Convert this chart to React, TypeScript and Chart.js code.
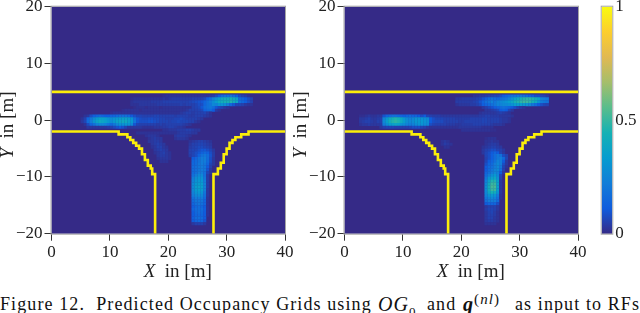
import React, { useEffect, useRef } from "react";
import { Chart, registerables } from "chart.js";

Chart.register(...registerables);

const FONT = "'Liberation Serif', serif";

// parula colour map, ten evenly spaced stops
const parulaStops = [
  [53, 42, 135], [15, 92, 221], [18, 125, 216], [7, 156, 207], [21, 177, 180],
  [89, 189, 140], [165, 190, 107], [225, 185, 82], [252, 206, 46], [249, 251, 14],
];

const xTickRange = [0, 40];
const yTickRange = [-20, 20];
const colorTicks = [0, 0.5, 1];

// road edges, metres
const topEdge = [[0, 5], [40, 5]];
const leftCurb = [
  [0, -2], [11.5, -2], [11.5, -2.5], [13, -2.5], [13, -3], [13.5, -3], [13.5, -3.5], [14, -3.5], [14, -4],
  [14.5, -4], [14.5, -4.5], [15, -4.5], [15, -5], [15.5, -5], [15.5, -6], [16, -6], [16, -7], [16.5, -7],
  [16.5, -8], [17, -8], [17, -8.5], [17.25, -8.5], [17.25, -9.5], [17.75, -9.5], [17.75, -20],
];
const rightCurb = [
  [27.75, -20], [27.75, -9.5], [28.5, -9.5], [28.5, -8.5], [29, -8.5], [29, -7.5], [29.5, -7.5], [29.5, -6],
  [30, -6], [30, -5], [30.5, -5], [30.5, -4], [31, -4], [31, -3.5], [31.5, -3.5], [31.5, -3], [32.5, -3],
  [32.5, -2.5], [33.75, -2.5], [33.75, -2], [40, -2],
];

// occupancy cells: [row centre y, left edge x of first cell, ...percent per 0.5 m cell]
const leftGrid = [
  [4.25, 19, 1, 2, 2, 2, 2, 2, 2, 2, 2, 2, 2, 2, 2, 2, 2, 2, 3, 4, 7, 11, 16, 18, 18, 20, 16, 12, 7, 5, 4, 2],
  [3.75, 13.5, 1, 2, 2, 2, 2, 2, 2, 2, 2, 2, 2, 3, 2, 3, 4, 4, 4, 4, 4, 4, 4, 5, 5, 5, 5, 7, 12, 17, 24, 30, 36, 40, 42, 42, 44, 40, 36, 16, 14, 11, 8, 5],
  [3.25, 13.5, 2, 3, 3, 3, 3, 3, 3, 4, 4, 4, 4, 5, 5, 5, 5, 5, 5, 5, 5, 5, 6, 7, 8, 9, 10, 14, 18, 22, 28, 34, 40, 42, 44, 44, 46, 42, 38, 18, 15, 12, 8, 5],
  [2.75, 13.5, 2, 2, 2, 3, 3, 3, 3, 3, 3, 4, 4, 4, 4, 4, 4, 4, 4, 5, 4, 5, 5, 5, 6, 8, 8, 14, 18, 20, 26, 24, 30, 30, 28, 22, 15, 10, 6, 6, 5, 3, 2, 2],
  [2.25, 14, 1, 2, 2, 2, 1, 2, 2, 2, 2, 1, 2, 2, 2, 2, 2, 2, 2, 2, 2, 2, 5, 6, 7, 10, 16, 18, 20, 17, 10, 7, 5, 3, 2],
  [1.75, 12, 1, 2, 2, 2, 2, 2, 1, 2, 2, 2, 2, 2, 2, 2, 2, 2, 2, 2, 2, 2, 2, 2, 3, 5, 5, 5, 6, 7, 13, 15, 16, 11, 4, 2],
  [1.25, 10, 1, 2, 2, 2, 2, 2, 2, 2, 2, 2, 2, 2, 2, 2, 2, 2, 2, 2, 2, 2, 2, 2, 2, 2, 3, 4, 5, 5, 4, 5, 5, 5, 6, 4, 2],
  [0.75, 5.5, 2, 3, 8, 12, 14, 16, 14, 12, 12, 14, 14, 16, 18, 18, 18, 16, 11, 8, 6, 6, 5, 5, 5, 5, 6, 6, 5, 5, 5, 5, 5, 4, 5, 5, 5, 5, 4, 4, 5, 5, 5, 4, 3, 2],
  [0.25, 5, 2, 5, 14, 20, 26, 32, 36, 36, 34, 30, 28, 30, 32, 34, 36, 36, 34, 30, 18, 10, 8, 7, 7, 8, 8, 7, 7, 6, 6, 5, 5, 5, 6, 6, 7, 6, 5, 5, 5, 5, 4, 3],
  [-0.25, 5, 3, 6, 16, 22, 30, 36, 40, 38, 36, 32, 28, 32, 36, 38, 40, 40, 36, 32, 20, 10, 8, 8, 8, 9, 9, 8, 7, 6, 6, 6, 5, 6, 6, 7, 6, 6, 6, 5, 5, 3, 2],
  [-0.75, 5.5, 2, 7, 14, 18, 24, 26, 26, 24, 20, 16, 20, 26, 30, 30, 32, 30, 26, 10, 6, 5, 5, 5, 5, 5, 5, 4, 5, 4, 5, 5, 5, 5, 5, 5, 4, 3, 2],
  [-1.25, 6, 3, 3, 3, 3, 3, 3, 3, 4, 5, 7, 9, 11, 9, 6, 3, 3, 3, 3, 3, 2, 2, 2, 2, 3, 3, 3, 4, 4, 5, 5, 4, 3, 3, 2],
  [-1.75, 19, 2, 2, 3, 3, 3, 4, 4, 4, 5, 5, 4, 3, 3],
  [-2.25, 14.5, 2, 2, 2, 2, 2, 2, 2, 2, 2, 2, 2, 2, 2, 2, 3, 4, 4, 4, 4, 3, 3],
  [-2.75, 16, 2, 3, 3, 3, 2], [-2.75, 21, 3, 4, 4, 4, 3, 2],
  [-3.25, 16.5, 2, 3, 4, 3, 3], [-3.25, 21, 2, 3, 3, 3, 2],
  [-3.75, 16.5, 3, 3, 4, 4, 3], [-3.75, 23.5, 2, 3, 4, 5, 5, 4, 3, 2],
  [-4.25, 17, 3, 4, 5, 4, 3], [-4.25, 23.5, 3, 5, 5, 6, 6, 5, 4, 3],
  [-4.75, 17, 2, 3, 5, 5, 3, 2], [-4.75, 23.5, 4, 5, 6, 7, 7, 6, 5, 4],
  [-5.25, 17.5, 3, 4, 5, 4, 3], [-5.25, 23.5, 5, 6, 6, 8, 10, 10, 8, 6, 3],
  [-5.75, 17.5, 2, 3, 4, 5, 3, 2], [-5.75, 23.5, 5, 6, 8, 10, 13, 15, 13, 8, 4],
  [-6.25, 18, 3, 4, 4, 3, 2], [-6.25, 23.5, 4, 6, 8, 13, 18, 20, 17, 9, 4],
  [-6.75, 18, 2, 3, 3, 3, 2], [-6.75, 24, 11, 14, 18, 22, 22, 17, 8, 3],
  [-7.25, 18.5, 2, 2, 2], [-7.25, 24, 14, 16, 18, 22, 22, 16, 8, 3],
  [-7.75, 24, 15, 16, 20, 22, 20, 14, 6, 3],
  [-8.25, 24, 16, 18, 20, 22, 20, 11, 5],
  [-8.75, 24, 16, 18, 20, 22, 20, 9, 3],
  [-9.25, 24, 16, 18, 22, 22, 18, 6, 3],
  [-9.75, 24, 18, 22, 26, 26, 18, 4],
  [-10.25, 24, 22, 28, 30, 30, 20, 4],
  [-10.75, 24, 24, 30, 32, 32, 22, 4],
  [-11.25, 24, 26, 32, 34, 34, 24, 4],
  [-11.75, 24, 26, 34, 36, 35, 24, 4],
  [-12.25, 24, 26, 33, 35, 34, 23, 3],
  [-12.75, 24, 24, 30, 32, 30, 20, 3],
  [-13.25, 24, 22, 26, 28, 26, 18, 3],
  [-13.75, 24, 18, 22, 22, 22, 16, 2],
  [-14.25, 24, 16, 20, 20, 20, 14, 2],
  [-14.75, 24, 14, 18, 20, 18, 14, 2],
  [-15.25, 24, 12, 15, 17, 15, 11, 2],
  [-15.75, 24, 14, 17, 17, 17, 12, 2],
  [-16.25, 24, 11, 15, 17, 15, 11, 2],
  [-16.75, 24, 11, 14, 15, 14, 11, 2],
  [-17.25, 24, 12, 16, 17, 16, 11],
  [-17.75, 24, 11, 14, 15, 14, 9],
  [-18.25, 24, 3, 5, 5, 5, 3],
];

const rightGrid = [
  [4.25, 22, 2, 2, 3, 3, 4, 5, 5, 6, 6, 8, 11, 13, 16, 18, 18, 20, 20, 18, 16, 13, 11, 8, 8, 6, 5, 3],
  [3.75, 19, 3, 3, 4, 4, 4, 4, 4, 5, 6, 9, 12, 16, 18, 16, 14, 16, 18, 20, 24, 30, 36, 40, 44, 46, 48, 48, 46, 42, 38, 24, 22, 20],
  [3.25, 19, 4, 4, 4, 4, 4, 4, 5, 6, 9, 14, 18, 20, 24, 20, 24, 26, 28, 30, 34, 38, 44, 46, 48, 50, 50, 48, 44, 40, 30, 22, 20, 18],
  [2.75, 19, 2, 3, 3, 3, 3, 4, 4, 5, 7, 12, 14, 16, 18, 20, 24, 24, 26, 26, 28, 30, 34, 34, 34, 32, 30, 26, 20, 16, 11, 8, 6, 5],
  [2.25, 23.5, 3, 5, 7, 9, 12, 14, 16, 18, 16, 14, 11, 8, 5, 3, 2],
  [1.75, 24, 3, 3, 4, 5, 7, 11, 13, 11, 6, 3],
  [1.25, 23, 2, 3, 3, 3, 3, 3, 4, 5, 4, 3, 2],
  [0.75, 2.5, 1, 1, 2, 3, 2, 2, 3, 3, 9, 14, 16, 18, 18, 16, 14, 12, 14, 16, 14, 14, 11, 8, 11, 6, 5, 4, 4, 4, 3, 3, 3, 3, 3, 3, 3, 3, 3, 3, 3, 3, 3, 4, 4, 5, 5, 4, 4, 4, 3, 3, 3, 3, 2],
  [0.25, 2.5, 3, 3, 4, 5, 3, 3, 4, 5, 24, 32, 40, 44, 46, 44, 38, 32, 26, 24, 26, 30, 30, 30, 28, 26, 11, 8, 6, 6, 6, 5, 5, 5, 5, 4, 4, 4, 4, 4, 5, 5, 5, 5, 6, 6, 5, 5, 5, 5, 4, 3, 3, 2],
  [-0.25, 2.5, 3, 4, 5, 5, 4, 3, 5, 5, 26, 34, 42, 46, 48, 46, 40, 34, 28, 26, 28, 32, 32, 32, 30, 28, 11, 8, 7, 7, 7, 5, 5, 5, 5, 5, 4, 4, 5, 5, 5, 5, 5, 5, 6, 6, 5, 5, 5, 5, 4, 3, 3, 2],
  [-0.75, 2.5, 2, 3, 3, 4, 3, 3, 3, 4, 22, 28, 34, 36, 38, 36, 30, 28, 24, 22, 24, 28, 30, 30, 28, 26, 8, 6, 5, 5, 5, 5, 4, 4, 4, 3, 3, 4, 4, 4, 4, 5, 5, 5, 5, 5, 5, 4, 3, 3, 3, 2],
  [-1.25, 6, 3, 5, 6, 6, 6, 5, 5, 5, 5, 5, 6, 8, 8, 8, 6, 5, 3, 2, 2, 2, 2, 2, 2, 2, 2, 2, 2, 3, 3, 3, 3, 3, 3, 3, 3, 2, 2, 2, 2],
  [-1.75, 20, 2, 2, 2, 2, 2, 2, 2, 2, 2, 2, 1, 1],
  [-3.75, 16.5, 2, 3, 2], [-4.25, 16.5, 2, 4, 3, 2], [-4.75, 17, 2, 2],
  [-3.25, 24, 1, 2, 2, 2], [-3.75, 24, 2, 2, 3, 2, 2],
  [-4.25, 24, 2, 3, 4, 4, 3], [-4.75, 23.5, 2, 3, 4, 5, 5, 4, 3],
  [-5.25, 23.5, 3, 5, 6, 8, 8, 6, 5, 3],
  [-5.75, 23.5, 3, 6, 8, 11, 14, 11, 6, 3],
  [-6.25, 24, 6, 8, 12, 16, 20, 18, 8, 5],
  [-6.75, 24, 5, 8, 12, 16, 20, 22, 16, 6],
  [-7.25, 24, 6, 11, 14, 18, 24, 22, 11, 3],
  [-7.75, 24, 8, 14, 16, 22, 26, 22, 8, 3],
  [-8.25, 24, 11, 16, 18, 22, 26, 20, 6, 2],
  [-8.75, 24, 11, 16, 20, 24, 26, 18, 5],
  [-9.25, 24, 14, 18, 22, 26, 24, 11, 3],
  [-9.75, 24, 16, 22, 28, 32, 26, 6],
  [-10.25, 24, 20, 30, 36, 38, 30, 5],
  [-10.75, 24, 24, 36, 46, 46, 34, 3],
  [-11.25, 24, 26, 40, 50, 50, 36, 3],
  [-11.75, 24, 28, 42, 52, 52, 36, 3],
  [-12.25, 24, 28, 42, 50, 50, 34, 3],
  [-12.75, 24, 26, 38, 44, 42, 30, 3],
  [-13.25, 24, 24, 30, 32, 30, 22, 2],
  [-13.75, 24, 20, 24, 26, 24, 18, 2],
  [-14.25, 24, 18, 22, 22, 22, 16],
  [-14.75, 24, 11, 14, 14, 14, 8],
  [-15.25, 24, 3, 5, 5, 5, 3],
  [-15.75, 24, 4, 6, 6, 5, 3],
  [-16.25, 24, 3, 5, 6, 4, 2],
  [-16.75, 24, 3, 5, 5, 4, 2],
  [-17.25, 24, 3, 5, 5, 3, 2],
  [-17.75, 24, 3, 4, 4, 3, 2],
  [-18.25, 24, 2, 2, 2, 2],
];

const pts = (a: number[][]) => a.map(([x, y]) => ({ x, y }));

const colorOf = (v: number) => {
  const t = Math.min(0.9999, Math.max(0, v)) * (parulaStops.length - 1);
  const i = Math.floor(t);
  const f = t - i;
  const c = parulaStops[i].map((p, k) => Math.round(p + (parulaStops[i + 1][k] - p) * f));
  return `rgb(${c[0]},${c[1]},${c[2]})`;
};

const cellsOf = (rows: number[][]) => {
  const data: { x: number; y: number }[] = [];
  const colors: string[] = [];
  rows.forEach(([y, x0, ...vals]) =>
    vals.forEach((v, i) => {
      data.push({ x: x0 + 0.25 + i * 0.5, y });
      colors.push(colorOf(v / 100));
    })
  );
  return { data, colors };
};

const framePlugin = {
  id: "frame",
  beforeDatasetsDraw(chart: any, _a: any, o: any) {
    const { ctx, chartArea: a } = chart;
    if (o.fill) {
      ctx.save();
      ctx.fillStyle = o.fill;
      ctx.fillRect(a.left, a.top, a.width, a.height);
      ctx.restore();
    }
  },
  afterDatasetsDraw(chart: any) {
    const { ctx, chartArea: a } = chart;
    ctx.save();
    ctx.strokeStyle = "#a5a5a5";
    ctx.lineWidth = 1;
    ctx.strokeRect(a.left - 0.5, a.top - 0.5, a.width + 1, a.height + 1);
    ctx.restore();
  },
};

const titlesPlugin = {
  id: "axisTitles",
  afterDraw(chart: any) {
    const { ctx, chartArea: a } = chart;
    const rest = "  in [m]";
    ctx.save();
    ctx.fillStyle = "#222";
    ctx.textBaseline = "alphabetic";
    ctx.textAlign = "left";
    ctx.font = `italic 19px ${FONT}`;
    const wX = ctx.measureText("X").width;
    const wY = ctx.measureText("Y").width;
    ctx.font = `19px ${FONT}`;
    const wR = ctx.measureText(rest).width;
    let x0 = a.left + a.width / 2 + 9.5 - (wX + wR) / 2;
    ctx.font = `italic 19px ${FONT}`;
    ctx.fillText("X", x0, 277);
    ctx.font = `19px ${FONT}`;
    ctx.fillText(rest, x0 + wX, 277);
    ctx.translate(13, 125);
    ctx.rotate(-Math.PI / 2);
    x0 = -(wY + wR) / 2;
    ctx.font = `italic 19px ${FONT}`;
    ctx.fillText("Y", x0, 0);
    ctx.font = `19px ${FONT}`;
    ctx.fillText(rest, x0 + wY, 0);
    ctx.restore();
  },
};

function makeHeat(canvas: HTMLCanvasElement, rows: number[][]) {
  const cells = cellsOf(rows);
  const road = (d: number[][]) => ({
    type: "scatter",
    data: pts(d),
    showLine: true,
    borderColor: "#fbee0a",
    borderWidth: 2.6,
    pointRadius: 0,
    order: 0,
    borderJoinStyle: "miter",
  });
  return new Chart(canvas, {
    type: "scatter",
    data: {
      datasets: [
        road(topEdge),
        road(leftCurb),
        road(rightCurb),
        {
          data: cells.data,
          pointStyle: "rect",
          pointRadius: 2.2,
          pointBorderWidth: 0,
          pointBackgroundColor: cells.colors,
          order: 1,
        },
      ] as any,
    },
    plugins: [framePlugin, titlesPlugin],
    options: {
      animation: false,
      responsive: false,
      events: [],
      layout: { padding: { top: 6.7, right: 11, left: 0, bottom: 0 } },
      plugins: { legend: { display: false }, tooltip: { enabled: false }, frame: { fill: colorOf(0) } } as any,
      scales: {
        x: {
          type: "linear",
          min: xTickRange[0],
          max: xTickRange[1],
          afterFit: (s: any) => { s.height = 56.3; s.paddingLeft = 0; s.paddingRight = 0; },
          border: { display: false },
          grid: { drawOnChartArea: false, tickLength: 7, tickColor: "#333", tickWidth: 1 },
          ticks: { stepSize: 10, maxRotation: 0, padding: 2, color: "#222", font: { family: FONT, size: 17 } },
        },
        y: {
          type: "linear",
          min: yTickRange[0],
          max: yTickRange[1],
          afterFit: (s: any) => { s.width = 51.5; s.paddingTop = 0; s.paddingBottom = 0; },
          border: { display: false },
          grid: { drawOnChartArea: false, tickLength: 7, tickColor: "#333", tickWidth: 1 },
          ticks: {
            stepSize: 10,
            padding: 2,
            color: "#222",
            font: { family: FONT, size: 17 },
            callback: (v: any) => String(v).replace("-", "\u2212"),
          },
        },
      },
    } as any,
  });
}

function makeBar(canvas: HTMLCanvasElement) {
  return new Chart(canvas, {
    type: "bar",
    data: {
      labels: ["occupancy"],
      datasets: [
        {
          data: [[colorTicks[0], colorTicks[2]]],
          barPercentage: 1,
          categoryPercentage: 1,
          backgroundColor: (c: any) => {
            const a = c.chart.chartArea;
            if (!a) return "#352a87";
            const g = c.chart.ctx.createLinearGradient(0, a.bottom, 0, a.top);
            parulaStops.forEach((s, i) => g.addColorStop(i / (parulaStops.length - 1), `rgb(${s[0]},${s[1]},${s[2]})`));
            return g;
          },
        },
      ] as any,
    },
    plugins: [framePlugin],
    options: {
      animation: false,
      responsive: false,
      events: [],
      layout: { padding: { top: 6.7, left: 11.7, right: 0, bottom: 16.3 } },
      plugins: { legend: { display: false }, tooltip: { enabled: false } },
      scales: {
        x: { display: false },
        y: {
          position: "right",
          min: 0,
          max: 1,
          afterFit: (s: any) => { s.width = 27.7; s.paddingTop = 0; s.paddingBottom = 0; },
          border: { display: false },
          grid: { display: false, drawTicks: false },
          afterBuildTicks: (s: any) => { s.ticks = colorTicks.map((value) => ({ value })); },
          ticks: { padding: 3, color: "#222", font: { family: FONT, size: 17 }, callback: (v: any) => String(v) },
        },
      },
    } as any,
  });
}

const captionPiece = (left: number): React.CSSProperties => ({ position: "absolute", left, top: 0 });

export default function App() {
  const a = useRef<HTMLCanvasElement>(null);
  const b = useRef<HTMLCanvasElement>(null);
  const c = useRef<HTMLCanvasElement>(null);
  useEffect(() => {
    document.body.style.margin = "0";
    document.body.style.background = "#fff";
    const charts = [makeHeat(a.current!, leftGrid), makeHeat(b.current!, rightGrid), makeBar(c.current!)];
    return () => charts.forEach((x) => x.destroy());
  }, []);
  const canvasStyle = (left: number): React.CSSProperties => ({ position: "absolute", left, top: 0 });
  return (
    <div style={{ position: "relative", width: 640, height: 313, overflow: "hidden", background: "#fff" }}>
      <canvas ref={a} width={296} height={290} style={canvasStyle(0)} />
      <canvas ref={b} width={296} height={290} style={canvasStyle(293)} />
      <canvas ref={c} width={50} height={250} style={canvasStyle(590)} />
      <div
        style={{
          position: "absolute",
          left: 0,
          top: 293.5,
          width: 640,
          height: 20,
          whiteSpace: "pre",
          fontFamily: FONT,
          fontSize: 18,
          letterSpacing: 1.1,
          lineHeight: "21px",
          color: "#111",
        }}
      >
        <span style={captionPiece(0)}>{"Figure 12.  Predicted Occupancy Grids using"}</span>
        <span style={captionPiece(378)}>
          <i style={{ fontSize: 20 }}>OG</i>
          <sub style={{ fontSize: 13, lineHeight: 0 }}>0</sub>
        </span>
        <span style={captionPiece(427)}>and</span>
        <span style={captionPiece(463)}>
          <b><i style={{ fontSize: 20 }}>q</i></b>
          <sup style={{ fontSize: 15, lineHeight: 0 }}>(<i>nl</i>)</sup>
        </span>
        <span style={captionPiece(515)}>as input to RFs</span>
      </div>
    </div>
  );
}
